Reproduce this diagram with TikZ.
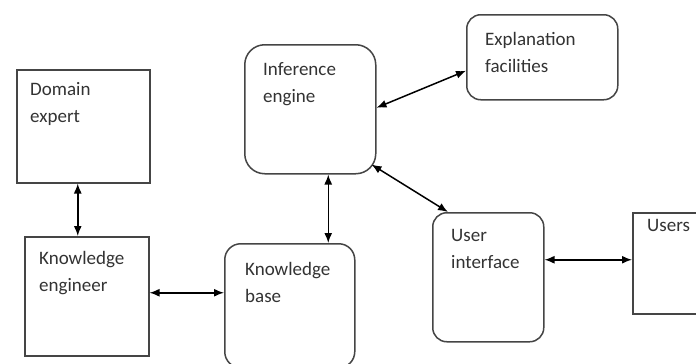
\documentclass[tikz,border=0pt]{standalone}
\usepackage{fontspec}
\setmainfont{Carlito}
\usetikzlibrary{arrows.meta}
\definecolor{edge}{HTML}{454545}
\definecolor{ink}{HTML}{333333}
\tikzset{
  sq/.style={draw=edge, line width=1.5pt, inner sep=0pt, anchor=north west},
  rd/.style={sq, rounded corners=16pt},
  txt/.style={anchor=north west, inner sep=0pt, align=left, text=ink,
    font=\fontsize{19pt}{27pt}\selectfont},
  arr/.style={line width=1.5pt, draw=black,
    {Latex[length=10pt,width=8pt]}-{Latex[length=10pt,width=8pt]}}
}
\begin{document}
\begin{tikzpicture}[x=1pt,y=-1pt]
\clip (0,0) rectangle (696,364);
\fill[white] (0,0) rectangle (696,364);
% boxes
\node[sq, minimum width=133pt, minimum height=113pt] (de) at (16,69) {};
\node[sq, minimum width=124pt, minimum height=119pt] (ke) at (24,236) {};
\node[rd, minimum width=130pt, minimum height=124pt] (kb) at (224,243) {};
\node[rd, rounded corners=20pt, minimum width=131pt, minimum height=129pt] (ie) at (244,44) {};
\node[rd, rounded corners=14pt, minimum width=151pt, minimum height=85pt] (ex) at (466,14) {};
\node[rd, rounded corners=14pt, minimum width=111pt, minimum height=129pt] (ui) at (432,212) {};
\node[sq, minimum width=80pt, minimum height=101pt] (us) at (632,212) {};
% texts
\node[txt] (tde) at ([shift={(14,13)}]de.north west) {Domain\\expert};
\node[txt] (tke) at ([shift={(15,15)}]ke.north west) {Knowledge\\engineer};
\node[txt] (tkb) at ([shift={(21,19)}]kb.north west) {Knowledge\\base};
\node[txt] (tie) at ([shift={(19,18)}]ie.north west) {Inference\\engine};
\node[txt] (tex) at ([shift={(19,18)}]ex.north west) {Explanation\\facilities};
\node[txt] (tui) at ([shift={(19,17)}]ui.north west) {User\\interface};
\node[txt] (tus) at ([shift={(15,7)}]us.north west) {Users};
% connectors
\draw[arr] ([xshift=-5.5pt]de.south) -- ([xshift=-5.5pt]de.south |- ke.north);
\draw[arr] ([yshift=3.5pt]ke.east) -- ([yshift=3.5pt]ke.east -| kb.west);
\draw[arr] ([xshift=18pt]ie.south) -- ([xshift=18pt]ie.south |- kb.north);
\draw[arr] ([yshift=1.5pt]ie.east) -- ([yshift=-13.5pt]ex.west);
\draw[arr] ([shift={(-5,-10)}]ie.south east) -- ([xshift=16pt]ui.north west);
\draw[arr] ([yshift=17.5pt]ui.east) -- ([yshift=17.5pt]ui.east -| us.west);
\end{tikzpicture}
\end{document}
